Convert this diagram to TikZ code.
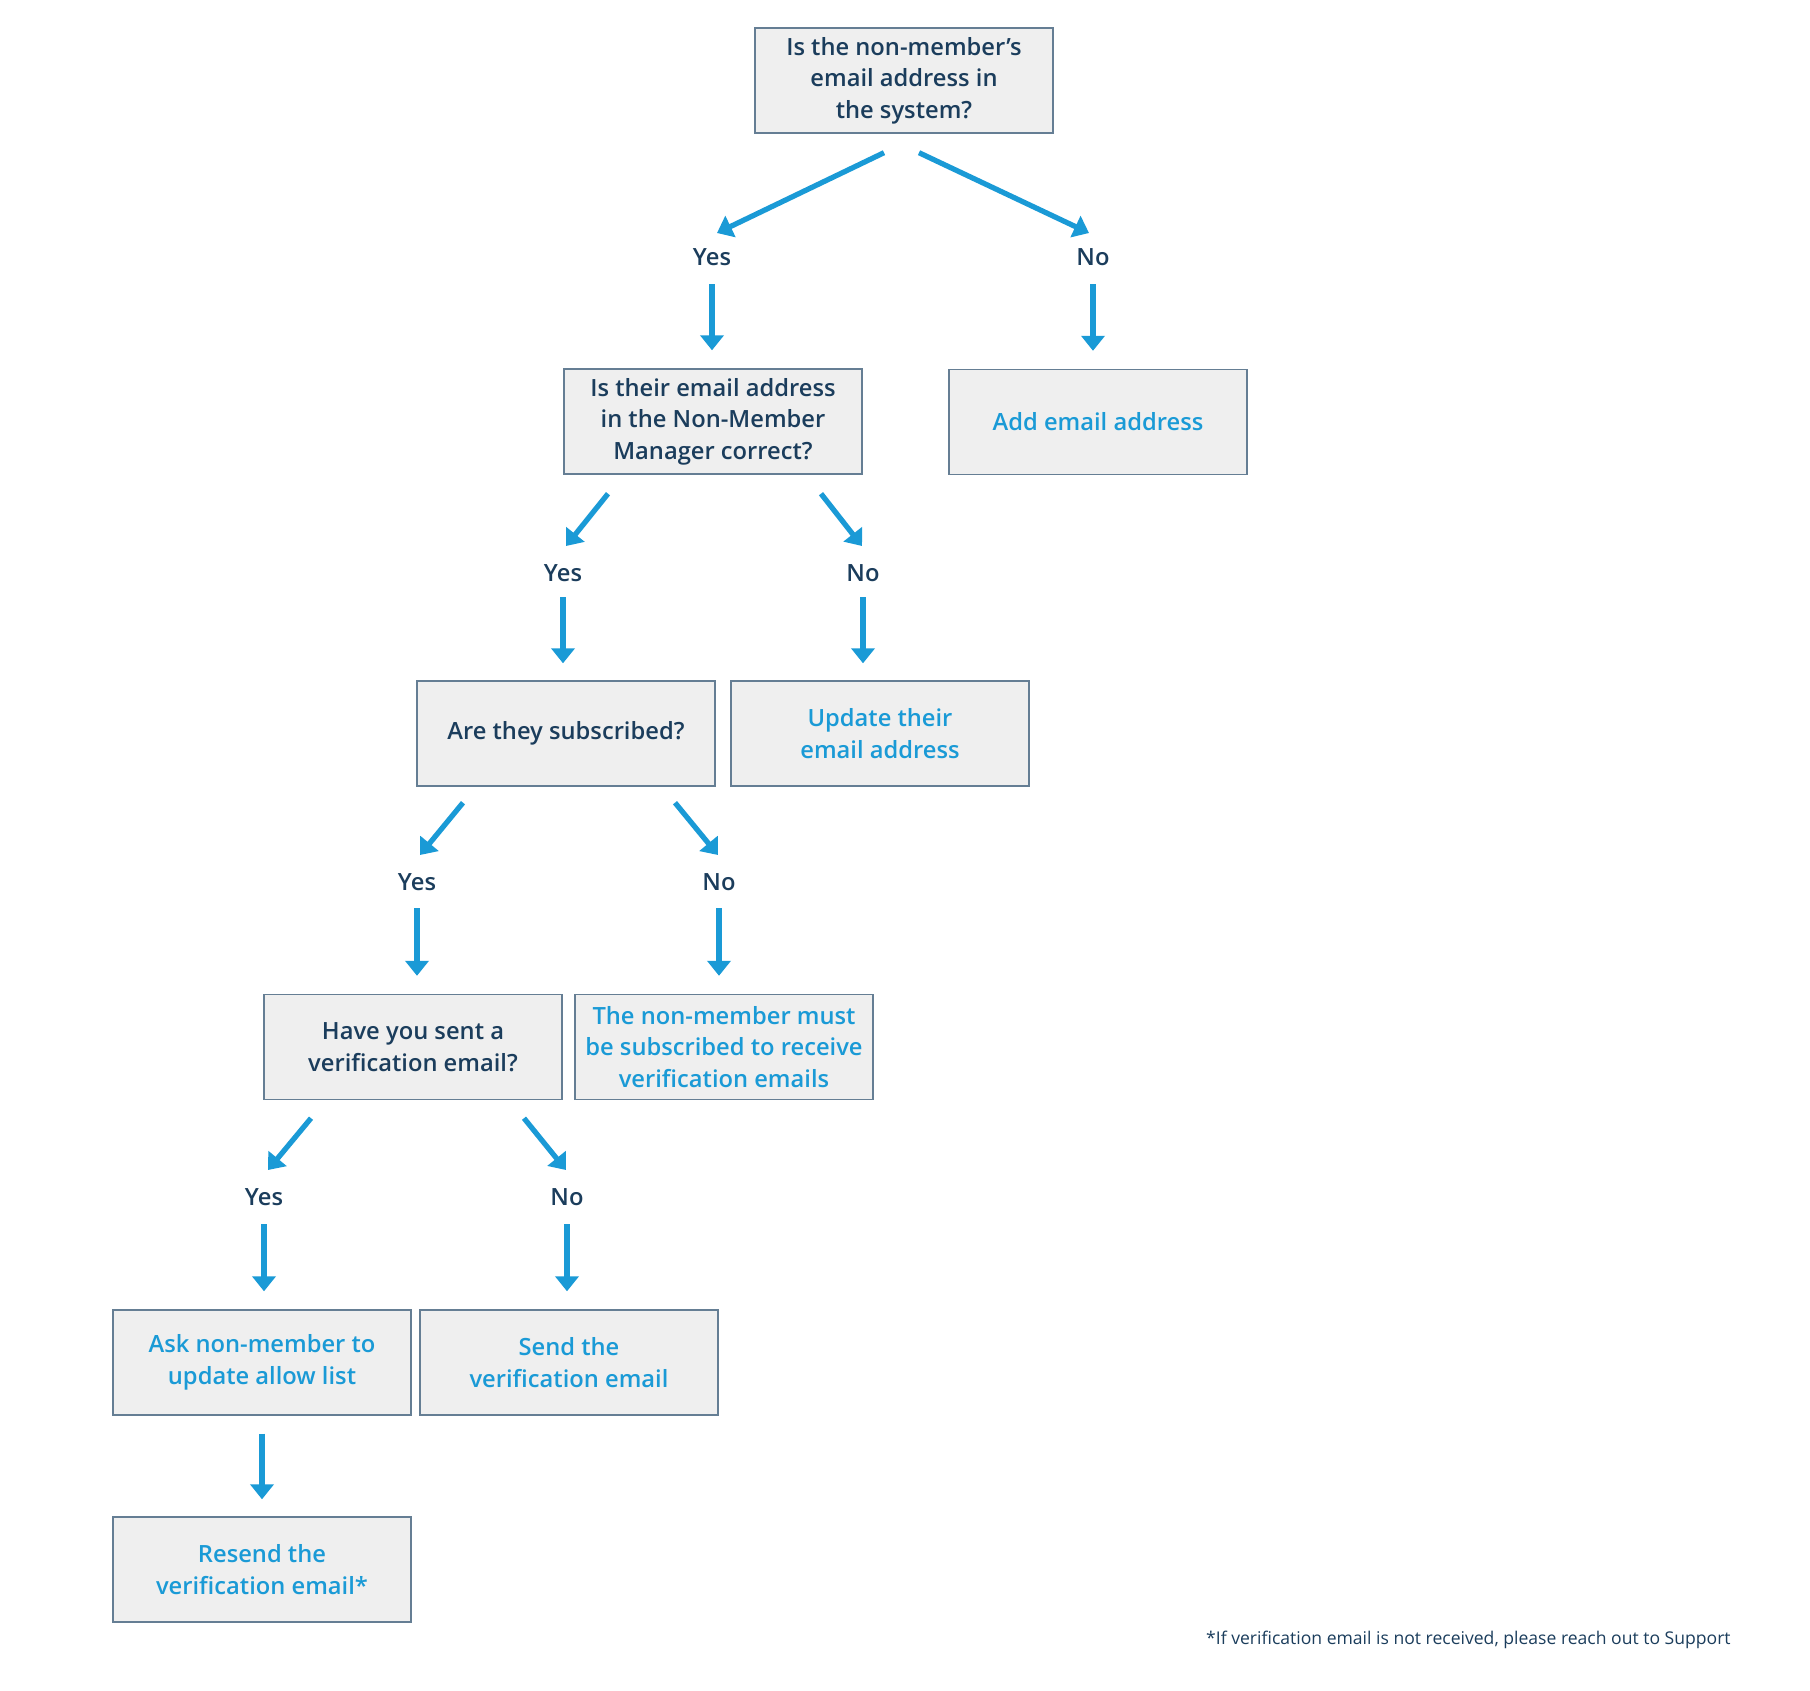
\documentclass[tikz,border=0pt]{standalone}
\usepackage{fontspec}
\IfFontExistsTF{Open Sans Semibold}{\setmainfont{Open Sans Semibold}}{%
  \IfFontExistsTF{OpenSans-SemiBold}{\setmainfont{OpenSans-SemiBold}}{%
    \IfFontExistsTF{OpenSans-Semibold}{\setmainfont{OpenSans-Semibold}}{%
      \setmainfont{Open Sans}[FakeBold=2.5]}}}
\newfontfamily\notefont{Open Sans}
\usetikzlibrary{arrows.meta,calc}
\definecolor{navy}{HTML}{1B3D5C}
\definecolor{flowblue}{HTML}{1A9AD6}
\definecolor{boxfill}{HTML}{EFEFEF}
\definecolor{boxline}{HTML}{657E94}
\tikzset{
  >={Triangle[length=3mm,width=4.6mm]},
  qbox/.style={draw=boxline,fill=boxfill,line width=0.8pt,minimum width=5.96cm,
    minimum height=2.1cm,align=center,text=navy,inner sep=2pt,
    font=\fontsize{13.5}{18}\selectfont},
  abox/.style={qbox,text=flowblue},
  ans/.style={text=navy,inner sep=1pt,font=\fontsize{13.5}{18}\selectfont},
  flow/.style={->,draw=flowblue,line width=3pt},
  note/.style={text=navy,inner sep=0pt,font=\notefont\fontsize{10}{12}\selectfont},
}

\begin{document}
\begin{tikzpicture}[x=0.02cm,y=-0.02cm]
  \useasboundingbox (0,0) rectangle (1810,1691);
  % questions and actions
  \node[qbox] (q1) at (904,80.5) {Is the non-member’s\\email address in\\the system?};
  \node[qbox] (q2) at (713,421.5) {Is their email address\\in the Non-Member\\Manager correct?};
  \node[abox] (add) at (1098,422) {Add email address};
  \node[qbox] (q3) at (566,733.5) {Are they subscribed?};
  \node[abox] (upd) at (880,733.5) {Update their\\email address};
  \node[qbox] (q4) at (413,1047) {Have you sent a\\verification email?};
  \node[abox] (must) at (724,1047) {The non-member must\\be subscribed to receive\\verification emails};
  \node[abox] (ask) at (262,1362.5) {Ask non-member to\\update allow list};
  \node[abox] (send) at (569,1362.5) {Send the\\verification email};
  \node[abox] (resend) at (262,1569.5) {Resend the\\verification email*};
  % yes/no labels
  \node[ans] (y1) at (712,257) {Yes};
  \node[ans] (n1) at (1093,257) {No};
  \node[ans] (y2) at (563,573) {Yes};
  \node[ans] (n2) at (863,573) {No};
  \node[ans] (y3) at (417,882) {Yes};
  \node[ans] (n3) at (719,882) {No};
  \node[ans] (y4) at (264,1197) {Yes};
  \node[ans] (n4) at (567,1197) {No};
  % connectors
  \draw[flow] ($(q1.south)+(-20,19)$) -- ($(y1)+(5,-24)$);
  \draw[flow] ($(q1.south)+(15,19)$) -- ($(n1)+(-4,-24)$);
  \draw[flow] ($(y1)+(0,27)$) -- ($(y1|-q2.north)+(0,-18)$);
  \draw[flow] ($(n1)+(0,27)$) -- ($(n1|-add.north)+(0,-18)$);
  \draw[flow] ($(q2.south)+(-105,19)$) -- ($(y2)+(3,-27)$);
  \draw[flow] ($(q2.south)+(108,19)$) -- ($(n2)+(-1,-27)$);
  \draw[flow] ($(y2)+(0,24)$) -- ($(y2|-q3.north)+(0,-17)$);
  \draw[flow] ($(n2)+(0,24)$) -- ($(n2|-upd.north)+(0,-17)$);
  \draw[flow] ($(q3.south)+(-103,16)$) -- ($(y3)+(3,-27)$);
  \draw[flow] ($(q3.south)+(109,16)$) -- ($(n3)+(-1,-27)$);
  \draw[flow] ($(y3)+(0,26)$) -- ($(y3|-q4.north)+(0,-18)$);
  \draw[flow] ($(n3)+(0,26)$) -- ($(n3|-must.north)+(0,-18)$);
  \draw[flow] ($(q4.south)+(-102,18)$) -- ($(y4)+(4,-27)$);
  \draw[flow] ($(q4.south)+(111,18)$) -- ($(n4)+(-1,-27)$);
  \draw[flow] ($(y4)+(0,27)$) -- ($(y4|-ask.north)+(0,-18)$);
  \draw[flow] ($(n4)+(0,27)$) -- ($(n4|-send.north)+(0,-18)$);
  \draw[flow] ($(ask.south)+(0,18)$) -- ($(resend.north)+(0,-17)$);
  % footnote
  \node[note,anchor=east] (fn) at (1731,1640) {*If verification email is not received, please reach out to Support};
\end{tikzpicture}
\end{document}
